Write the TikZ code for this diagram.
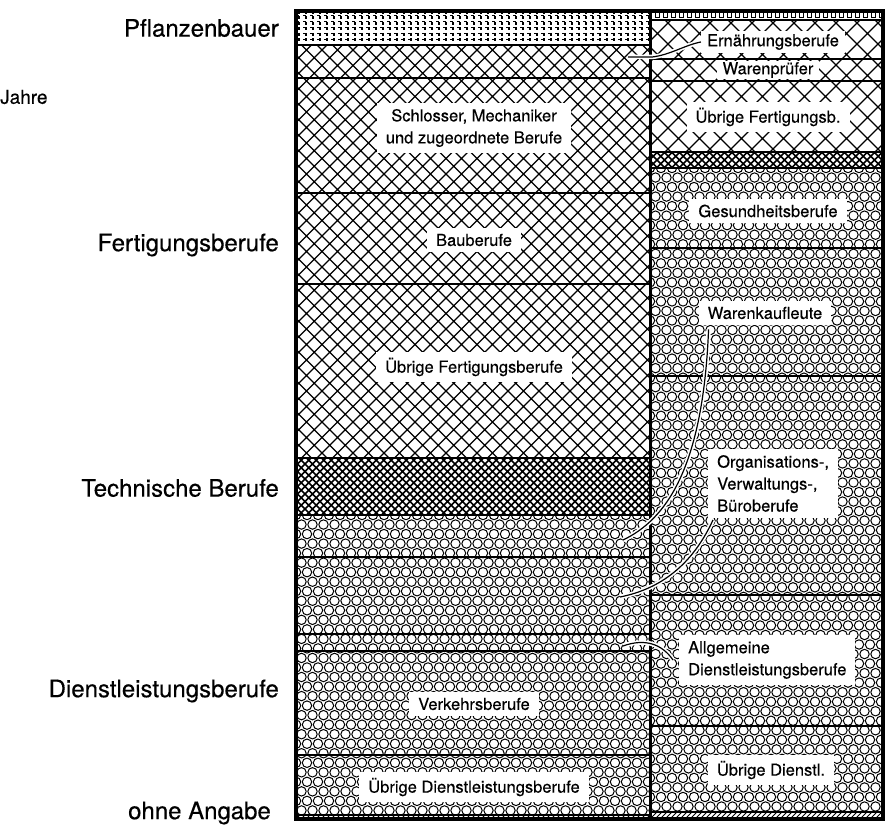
\documentclass[tikz,border=0pt]{standalone}
\usepackage{fontspec}
\setmainfont{TeX Gyre Heros}[FakeBold=0.4]
\usetikzlibrary{positioning}

\tikzset{
  outerframe/.style={line width=4pt},
  divide/.style={line width=1.2pt},
  hatch/.style={line width=1.3pt},
  weave/.style={line width=1.5pt},
  honey/.style={line width=1pt},
  boxlabel/.style={fill=white, inner xsep=9pt, inner ysep=6pt, align=center,
    font=\fontsize{16.5}{22}\selectfont},
  sidelabel/.style={anchor=east, inner sep=0pt, font=\fontsize{24}{28}\selectfont},
  leader/.style={line width=1.2pt, preaction={draw=white, line width=4.5pt}},
}

% diagonal cross hatching: [style]{x1}{y1}{x2}{y2}{spacing}
\newcommand{\crosshatch}[6][hatch]{%
  \begin{scope}
    \clip (#2,#3) rectangle (#4,#5);
    \pgfmathsetmacro\chh{#5-#3}
    \pgfmathtruncatemacro\cnn{(#4-#2+#5-#3)/#6+1}
    \draw[#1] \foreach \k in {0,...,\cnn}
      {({#2-\chh+\k*#6},#3) -- ++(\chh,\chh) ({#2+\k*#6},#3) -- ++(-\chh,\chh)};
  \end{scope}}

% packed circles
\newcommand{\honeycomb}[4]{%
  \begin{scope}
    \clip (#1,#2) rectangle (#3,#4);
    \pgfmathtruncatemacro\hcx{(#3-#1)/11+1}
    \pgfmathtruncatemacro\hcy{(#4-#2)/9.53+1}
    \draw[honey] \foreach \j in {0,...,\hcy} {\foreach \i in {0,...,\hcx}
      {({#1+\i*11+5.5*mod(\j,2)},{#2+\j*9.53}) circle[radius=4.7]}};
  \end{scope}}

% dashes for the top band
\newcommand{\dashfield}[4]{%
  \begin{scope}
    \clip (#1,#2) rectangle (#3,#4);
    \pgfmathtruncatemacro\dfn{(#3-#1)/7+1}
    \draw[line width=1.3pt, dash pattern=on 3pt off 2.5pt]
      \foreach \i in {0,...,\dfn} {({#1+3+\i*7},#2) -- ({#1+3+\i*7},#4)};
    \draw[line width=0.8pt, dash pattern=on 2.5pt off 4.5pt]
      \foreach \r in {0,...,5} {(#1,{#2+4+\r*6}) -- (#3,{#2+4+\r*6})};
  \end{scope}}

% slanted hatch for the bottom band
\newcommand{\slantband}[4]{%
  \begin{scope}
    \clip (#1,#2) rectangle (#3,#4);
    \pgfmathtruncatemacro\sbn{(#3-#1)/5+3}
    \draw[line width=1pt] \foreach \i in {0,...,\sbn} {({#1-10+\i*5},#4) -- ++(10,-10)};
  \end{scope}}

\begin{document}
\begin{tikzpicture}[x=1pt, y=-1pt]
  \useasboundingbox (0,0) rectangle (890,829);

  % left column
  \dashfield{296}{11}{650}{45}
  \crosshatch{296}{45}{650}{458}{15.5}
  \crosshatch[weave]{296}{458}{650}{515}{7.5}
  \honeycomb{296}{515}{650}{815}
  \slantband{296}{815}{650}{819}

  % right column
  \draw[line width=0.8pt] \foreach \i in {0,...,28} {({655+\i*8},12.5) rectangle ++(4.5,5)};
  \crosshatch{650}{20}{883}{152}{21}
  \crosshatch[weave]{650}{152}{883}{168}{7.5}
  \honeycomb{650}{168}{883}{812}
  \slantband{650}{812}{883}{819}

  % boundaries
  \draw[line width=2pt] (296,45) -- (650,45);
  \foreach \y in {78,193,284,458,515,557,634,651,755,815}
    \draw[divide] (296,\y) -- (650,\y);
  \foreach \y in {20,59,81,152,168,248,376,595,726,812}
    \draw[divide] (650,\y) -- (883,\y);

  \draw[outerframe] (296,11) rectangle (883,819);
  \draw[line width=3pt] (650,11) -- (650,819);

  % labels outside
  \node[sidelabel] (pflanz) at (279,28) {Pflanzenbauer};
  \node[anchor=west, inner sep=0pt, font=\fontsize{19}{21}\selectfont] (jahre) at (0,97) {Jahre};
  \node[sidelabel] (fert) at (279,245) {Fertigungsberufe};
  \node[sidelabel] (techn) at (279,488) {Technische Berufe};
  \node[sidelabel] (dienst) at (279,691) {Dienstleistungsberufe};
  \node[sidelabel] (ohne) at (271,813) {ohne Angabe};

  % left column labels
  \node[boxlabel] (schlosser) at (474,128) {Schlosser, Mechaniker\\und zugeordnete Berufe};
  \node[boxlabel] (bau) at (474,240) {Bauberufe};
  \node[boxlabel] (uebrfert) at (474,367) {Übrige Fertigungsberufe};
  \node[boxlabel] (verkehr) at (474,704) {Verkehrsberufe};
  \node[boxlabel] (uebrdienst) at (474,787) {Übrige Dienstleistungsberufe};

  % right column labels
  \node[boxlabel, inner xsep=6pt, inner ysep=3pt] (ernaehr) at (773,42) {Ernährungsberufe};
  \node[boxlabel, inner xsep=6pt, inner ysep=1pt] (warenpr) at (768,70) {Warenprüfer};
  \node[boxlabel] (uebrfertb) at (768,117) {Übrige Fertigungsb.};
  \node[boxlabel] (gesund) at (768,211) {Gesundheitsberufe};
  \node[boxlabel] (warenk) at (765,313) {Warenkaufleute};
  \node[boxlabel, align=left, anchor=north west] (orga) at (708,449) {Organisations-,\\Verwaltungs-,\\Büroberufe};
  \node[boxlabel, align=left, anchor=north west] (allg) at (679,635) {Allgemeine\\Dienstleistungsberufe};
  \node[boxlabel] (uebrdienstl) at (771,770) {Übrige Dienstl.};

  % leaders
  \coordinate (ernL) at (628,57);
  \coordinate (wkL) at (623,540);
  \coordinate (orgL) at (620,597);
  \coordinate (allgL) at (623,646);
  \draw[leader] (ernL) -- (652,57) .. controls (670,55) and (685,45) .. (ernaehr.west);
  \draw[leader] ([xshift=10pt,yshift=-4pt]warenk.south west) .. controls (703,470) and (665,520) .. (wkL);
  \draw[leader] ([xshift=5pt,yshift=-2pt]orga.south west) .. controls (690,570) and (655,590) .. (orgL);
  \draw[leader] (allgL) .. controls (645,638) and (662,644) .. ([xshift=-6pt]allg.west);
\end{tikzpicture}
\end{document}
